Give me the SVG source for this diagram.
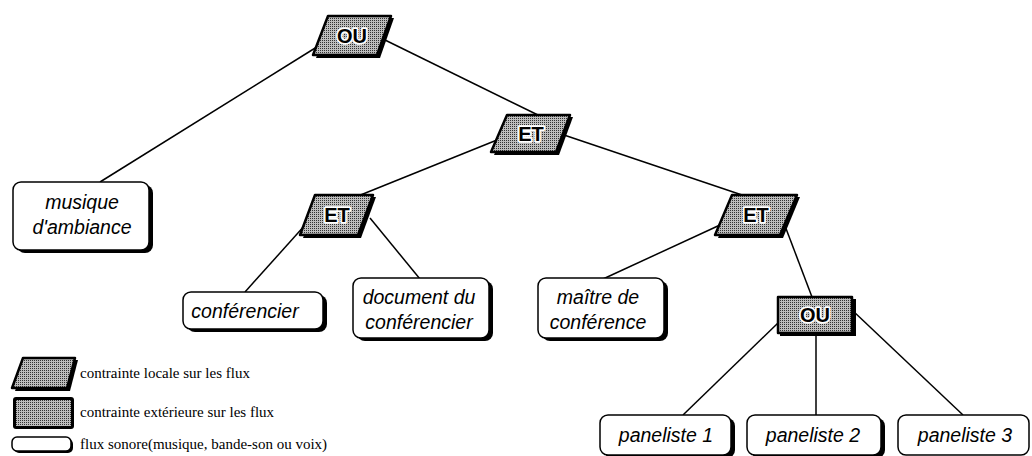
<svg xmlns="http://www.w3.org/2000/svg" width="1032" height="456" viewBox="0 0 1032 456">
<style>
.op{fill:url(#dots);stroke:#000;stroke-width:2.5;stroke-linejoin:round}
.sh{fill:#000}
.lbl{font-family:"Liberation Sans",Arial,sans-serif;font-weight:bold;font-size:20px;text-anchor:middle;fill:#000;stroke:#fff;stroke-width:3.5;paint-order:stroke;stroke-linejoin:round}
.box{fill:#fff;stroke:#000;stroke-width:1.5}
.bsh{fill:#000}
.t{font-family:"Liberation Sans",Arial,sans-serif;font-style:italic;font-size:19.5px;text-anchor:middle;fill:#000}
.leg{font-family:"Liberation Serif","Times New Roman",serif;font-size:15px;fill:#000}
.ln{stroke:#000;stroke-width:1.5;fill:none}
</style>
<defs>
<pattern id="dots" width="2" height="2" patternUnits="userSpaceOnUse">
<rect width="2" height="2" fill="#bdbdbd"/>
<rect width="1" height="1" fill="#333"/>
</pattern>
</defs>
<g id="connectors">
<line class="ln" x1="320" y1="45" x2="100" y2="182"/>
<line class="ln" x1="385" y1="40" x2="540" y2="116"/>
<line class="ln" x1="497" y1="140" x2="358" y2="196"/>
<line class="ln" x1="564" y1="135" x2="745" y2="196"/>
<line class="ln" x1="306" y1="224" x2="245" y2="292"/>
<line class="ln" x1="370" y1="218" x2="420" y2="279"/>
<line class="ln" x1="720" y1="225" x2="603" y2="279"/>
<line class="ln" x1="782" y1="218" x2="812" y2="297"/>
<line class="ln" x1="778" y1="323" x2="683" y2="415"/>
<line class="ln" x1="816" y1="333" x2="816" y2="415"/>
<line class="ln" x1="852" y1="310" x2="963" y2="415"/>
</g>
<g id="ou1">
<polygon class="sh" points="331,18 394,18 380,58 316,58"/>
<polygon class="op" points="328,16 391,16 377,55 313,55"/>
<text class="lbl" x="352" y="43">OU</text>
</g>
<g id="et1">
<polygon class="sh" points="510,117 573,117 559,155 494,155"/>
<polygon class="op" points="507,115 570,115 556,152 491,152"/>
<text class="lbl" x="531" y="141">ET</text>
</g>
<g id="et2">
<polygon class="sh" points="318,197 376,197 361,238 303,238"/>
<polygon class="op" points="315,195 373,195 358,235 300,235"/>
<text class="lbl" x="337" y="222">ET</text>
</g>
<g id="et3">
<polygon class="sh" points="735,197 800,197 783,238 718,238"/>
<polygon class="op" points="732,195 797,195 780,235 715,235"/>
<text class="lbl" x="756" y="222">ET</text>
</g>
<g id="ou2">
<rect class="sh" x="780" y="299" width="76" height="37"/>
<rect class="op" x="778" y="297" width="74" height="36"/>
<text class="lbl" x="815" y="322">OU</text>
</g>
<g id="musique">
<rect class="bsh" x="17" y="185" width="136" height="68" rx="8"/>
<rect class="box" x="13" y="182" width="136" height="68" rx="8"/>
<text class="t" x="82" y="209">musique</text>
<text class="t" x="82" y="234">d'ambiance</text>
</g>
<g id="conferencier">
<rect class="bsh" x="187" y="295" width="140" height="37" rx="8"/>
<rect class="box" x="183" y="292" width="140" height="37" rx="8"/>
<text class="t" x="245" y="318">conférencier</text>
</g>
<g id="document">
<rect class="bsh" x="357" y="281" width="136" height="60" rx="8"/>
<rect class="box" x="353" y="278" width="136" height="60" rx="8"/>
<text class="t" x="419" y="304">document du</text>
<text class="t" x="419" y="329">conférencier</text>
</g>
<g id="maitre">
<rect class="bsh" x="542" y="281" width="126" height="60" rx="8"/>
<rect class="box" x="538" y="278" width="126" height="60" rx="8"/>
<text class="t" x="598" y="304">maître de</text>
<text class="t" x="598" y="329">conférence</text>
</g>
<g id="paneliste1">
<rect class="bsh" x="604" y="418" width="131" height="40" rx="8"/>
<rect class="box" x="600" y="415" width="131" height="40" rx="8"/>
<text class="t" x="666" y="442">paneliste 1</text>
</g>
<g id="paneliste2">
<rect class="bsh" x="751" y="418" width="134" height="40" rx="8"/>
<rect class="box" x="747" y="415" width="134" height="40" rx="8"/>
<text class="t" x="813" y="442">paneliste 2</text>
</g>
<g id="paneliste3">
<rect class="box" x="898" y="415" width="131" height="40" rx="8"/>
<text class="t" x="965" y="442">paneliste 3</text>
</g>
<g id="legend">
<polygon class="sh" points="26,360 78,360 70,391 15,391"/>
<polygon class="op" points="23,358 75,358 67,388 12,388"/>
<text class="leg" x="80" y="378">contrainte locale sur les flux</text>
<rect class="sh" x="13" y="397" width="61" height="32" rx="3"/>
<rect x="16" y="400" width="55" height="26" fill="url(#dots)"/>
<text class="leg" x="80" y="417">contrainte extérieure sur les flux</text>
<rect class="bsh" x="14" y="439" width="59" height="14" rx="5"/>
<rect class="box" x="12" y="437" width="59" height="14" rx="5"/>
<text class="leg" x="80" y="449">flux sonore(musique, bande-son ou voix)</text>
</g>
</svg>
